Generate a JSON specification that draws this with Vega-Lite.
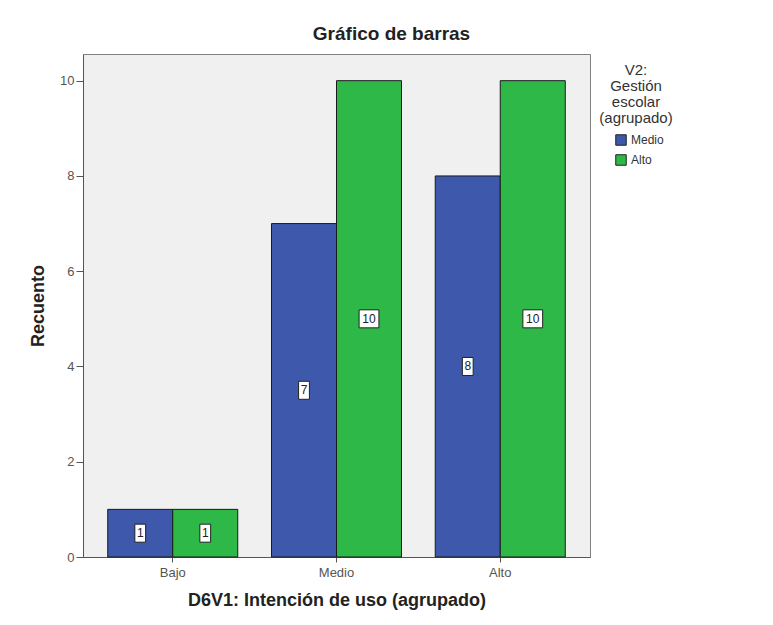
{
  "$schema": "https://vega.github.io/schema/vega-lite/v6.json",
  "width": 507,
  "height": 503,
  "autosize": {"type": "none"},
  "padding": {"left": 83, "top": 54, "right": 183, "bottom": 68},
  "background": "white",
  "config": {
    "font": "Liberation Sans",
    "view": {"fill": "#F0F0F0", "stroke": "#808080", "strokeWidth": 1}
  },
  "title": {
    "text": "Gráfico de barras",
    "fontSize": 19,
    "fontWeight": "bold",
    "color": "#222222",
    "anchor": "middle",
    "dx": 55,
    "offset": 10
  },
  "data": {
    "values": [
      {"cat": "Bajo", "grp": "Medio", "n": 1},
      {"cat": "Bajo", "grp": "Alto", "n": 1},
      {"cat": "Medio", "grp": "Medio", "n": 7},
      {"cat": "Medio", "grp": "Alto", "n": 10},
      {"cat": "Alto", "grp": "Medio", "n": 8},
      {"cat": "Alto", "grp": "Alto", "n": 10}
    ]
  },
  "transform": [{"calculate": "datum.n / 2", "as": "mid"}],
  "encoding": {
    "x": {
      "field": "cat",
      "type": "nominal",
      "sort": ["Bajo", "Medio", "Alto"],
      "scale": {"paddingInner": 0.206, "paddingOuter": 0.151},
      "axis": {
        "title": "D6V1: Intención de uso (agrupado)",
        "titleFontSize": 18,
        "titleFontWeight": "bold",
        "titleColor": "#222222",
        "titlePadding": 12,
        "labelAngle": 0,
        "labelFontSize": 13,
        "labelColor": "#555555",
        "labelPadding": 4,
        "tickSize": 5,
        "tickColor": "#555555",
        "domainColor": "#555555"
      }
    },
    "xOffset": {
      "field": "grp",
      "type": "nominal",
      "sort": ["Medio", "Alto"],
      "scale": {"paddingInner": 0, "paddingOuter": 0}
    }
  },
  "layer": [
    {
      "mark": {"type": "bar", "stroke": "#1a1a1a", "strokeWidth": 1},
      "encoding": {
        "y": {
          "field": "n",
          "type": "quantitative",
          "scale": {"domain": [0, 10.56], "nice": false},
          "axis": {
            "values": [0, 2, 4, 6, 8, 10],
            "grid": false,
            "title": "Recuento",
            "titleFontSize": 18,
            "titleFontWeight": "bold",
            "titleColor": "#222222",
            "titlePadding": 12,
            "labelFontSize": 13,
            "labelColor": "#555555",
            "labelPadding": 2,
            "tickSize": 7,
            "tickColor": "#555555",
            "domainColor": "#555555"
          }
        },
        "color": {
          "field": "grp",
          "type": "nominal",
          "scale": {"domain": ["Medio", "Alto"], "range": ["#3E58AC", "#2EB848"]},
          "legend": {
            "orient": "none",
            "legendX": 516,
            "legendY": 9,
            "title": ["V2:", "Gestión", "escolar", "(agrupado)"],
            "titleFontSize": 15,
            "titleFontWeight": "normal",
            "titleColor": "#333333",
            "titleAnchor": "middle",
            "titleAlign": "center",
            "titleLineHeight": 16,
            "titlePadding": 8,
            "labelFontSize": 12,
            "labelColor": "#333333",
            "labelOffset": 4,
            "symbolType": "square",
            "symbolSize": 110,
            "symbolStrokeColor": "#222222",
            "symbolStrokeWidth": 1,
            "symbolOffset": 6,
            "rowPadding": 4
          }
        }
      }
    },
    {
      "mark": {"type": "point", "filled": true, "fill": "white", "stroke": "#222222", "strokeWidth": 1, "opacity": 1},
      "encoding": {
        "y": {"field": "mid", "type": "quantitative"},
        "size": {"value": 324},
        "shape": {
          "condition": {"test": "datum.n >= 10", "value": "M-1.1,-1H1.1V1H-1.1Z"},
          "value": "M-0.6,-1H0.6V1H-0.6Z"
        }
      }
    },
    {
      "mark": {"type": "text", "fontSize": 12, "color": "#222222"},
      "encoding": {
        "y": {"field": "mid", "type": "quantitative"},
        "text": {"field": "n", "type": "quantitative"}
      }
    }
  ]
}
